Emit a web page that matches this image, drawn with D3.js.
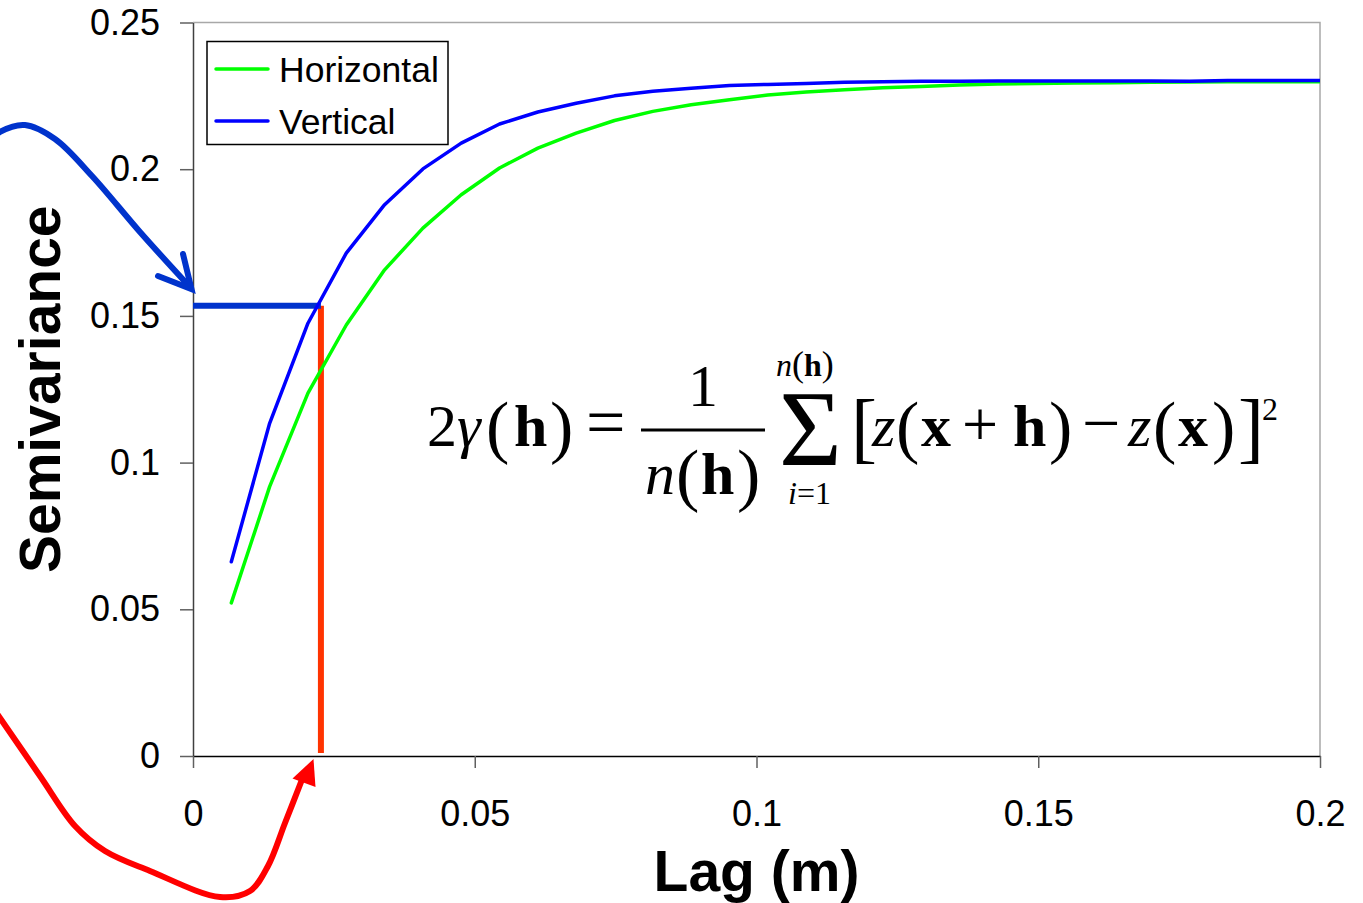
<!DOCTYPE html>
<html>
<head>
<meta charset="utf-8">
<script src="https://cdn.jsdelivr.net/npm/d3@7"></script>
<style>
  body { margin: 0; background: #fff; }
  svg { display: block; }
</style>
</head>
<body>
<svg width="1363" height="903"></svg>
<script>
// lag (m)
const lags = [0.0068, 0.0136, 0.0204, 0.0272, 0.034, 0.0408, 0.0476, 0.0544, 0.0612, 0.068,
              0.0748, 0.0816, 0.0884, 0.0952, 0.102, 0.1088, 0.1156, 0.1224, 0.1292, 0.136,
              0.1428, 0.1496, 0.1564, 0.1632, 0.17, 0.1768, 0.1836, 0.1904, 0.1972, 0.204]
const horizontal = [0.0522, 0.0918, 0.1237, 0.1469, 0.1657, 0.1799, 0.1913, 0.2004, 0.2072, 0.2123,
                    0.2166, 0.2197, 0.2220, 0.2237, 0.2253, 0.2263, 0.2271, 0.2278, 0.2282, 0.2287,
                    0.2290, 0.2292, 0.2294, 0.2295, 0.2296, 0.2297, 0.2298, 0.2298, 0.2298, 0.2298]
const vertical = [0.0662, 0.1134, 0.1475, 0.1714, 0.1879, 0.2001, 0.2089, 0.2154, 0.2195, 0.2225,
                  0.2250, 0.2266, 0.2276, 0.2285, 0.2289, 0.2292, 0.2296, 0.2298, 0.2300, 0.2300,
                  0.2301, 0.2301, 0.2301, 0.2301, 0.2301, 0.2300, 0.2302, 0.2302, 0.2302, 0.2302]
const seriesNames = ["Horizontal", "Vertical"]
const seriesColors = ["#00ff00", "#0000ff"]

const yTicks = [0, 0.05, 0.1, 0.15, 0.2, 0.25]
const yTickLabels = ["0", "0.05", "0.1", "0.15", "0.2", "0.25"]
const xTicks = [0, 0.05, 0.1, 0.15, 0.2]
const xTickLabels = ["0", "0.05", "0.1", "0.15", "0.2"]

// the picked point (lag, semivariance) marked by the blue / red lines
const pickLag = 0.0227
const pickGamma = 0.1535

const sans = "'Liberation Sans', Arial, sans-serif"
const serif = "'Liberation Serif', 'Times New Roman', serif"

const svg = d3.select("svg")
const x = d3.scaleLinear().domain([0, 0.2]).range([193, 1320])
const y = d3.scaleLinear().domain([0, 0.25]).range([756, 22.5])

// plot frame (top / right in grey)
svg.append("path")
    .attr("d", `M${x(0)},${y(0.25)}H${x(0.2)}V${y(0)}`)
    .attr("fill", "none")
    .attr("stroke", "#a8a8a8")
    .attr("stroke-width", 1.5)

// axes
const yAxis = svg.append("g")
    .attr("transform", `translate(${x(0)},0)`)
    .call(d3.axisLeft(y).tickValues(yTicks).tickFormat((d, i) => yTickLabels[i])
        .tickSize(13).tickSizeOuter(0).tickPadding(20))
const xAxis = svg.append("g")
    .attr("transform", `translate(0,${y(0)})`)
    .call(d3.axisBottom(x).tickValues(xTicks).tickFormat((d, i) => xTickLabels[i])
        .tickSize(12).tickSizeOuter(0).tickPadding(32))

yAxis.select(".domain").attr("stroke", "#404040").attr("stroke-width", 1.5)
xAxis.select(".domain").attr("stroke", "#000").attr("stroke-width", 1.5)
svg.selectAll(".tick line").attr("stroke", "#606060").attr("stroke-width", 1.5)
svg.selectAll(".tick text")
    .attr("font-family", sans)
    .attr("font-size", 36)
    .attr("fill", "#000")

// axis titles
svg.append("text")
    .attr("x", (x(0) + x(0.2)) / 2)
    .attr("y", 891)
    .attr("text-anchor", "middle")
    .attr("font-family", sans)
    .attr("font-size", 57)
    .attr("font-weight", "bold")
    .text("Lag (m)")
svg.append("text")
    .attr("transform", `translate(60,${(y(0) + y(0.25)) / 2}) rotate(-90)`)
    .attr("text-anchor", "middle")
    .attr("font-family", sans)
    .attr("font-size", 57)
    .attr("font-weight", "bold")
    .text("Semivariance")

// marker lines
svg.append("line")
    .attr("x1", x(pickLag)).attr("x2", x(pickLag))
    .attr("y1", y(pickGamma)).attr("y2", y(0) - 3)
    .attr("stroke", "#ff3300")
    .attr("stroke-width", 6)
svg.append("line")
    .attr("x1", x(0)).attr("x2", x(pickLag))
    .attr("y1", y(pickGamma)).attr("y2", y(pickGamma))
    .attr("stroke", "#0033cc")
    .attr("stroke-width", 6)

// data
svg.append("clipPath").attr("id", "plot")
    .append("rect")
    .attr("x", x(0)).attr("y", y(0.25))
    .attr("width", x(0.2) - x(0)).attr("height", y(0) - y(0.25))

const line = d3.line()
    .x(d => x(d[0]))
    .y(d => y(d[1]))
const series = [horizontal, vertical]
series.forEach((vals, k) => {
    svg.append("path")
        .datum(lags.map((l, i) => [l, vals[i]]))
        .attr("clip-path", "url(#plot)")
        .attr("d", line)
        .attr("fill", "none")
        .attr("stroke", seriesColors[k])
        .attr("stroke-width", 3.5)
        .attr("stroke-linecap", "round")
        .attr("stroke-linejoin", "round")
})

// legend
const legend = svg.append("g")
legend.append("rect")
    .attr("x", 207).attr("y", 41.5)
    .attr("width", 241).attr("height", 103)
    .attr("fill", "#fff")
    .attr("stroke", "#000")
    .attr("stroke-width", 1.5)
seriesNames.forEach((name, k) => {
    const ly = 69 + k * 52
    legend.append("line")
        .attr("x1", 216).attr("x2", 268)
        .attr("y1", ly).attr("y2", ly)
        .attr("stroke", seriesColors[k])
        .attr("stroke-width", 3.5)
        .attr("stroke-linecap", "round")
    legend.append("text")
        .attr("x", 279).attr("y", ly + 13)
        .attr("font-family", sans)
        .attr("font-size", 35.5)
        .text(name)
})

// curved arrows
const curve = d3.line().curve(d3.curveCatmullRom.alpha(0.5))
svg.append("path")
    .attr("d", curve([[-30, 160], [0, 132], [25, 125], [55, 139], [92, 176], [140, 232], [189, 286]]))
    .attr("fill", "none")
    .attr("stroke", "#0033cc")
    .attr("stroke-width", 6)
svg.append("path")
    .attr("d", "M183,254L191.5,289L158,276")
    .attr("fill", "none")
    .attr("stroke", "#0033cc")
    .attr("stroke-width", 6)
    .attr("stroke-linecap", "round")
    .attr("stroke-linejoin", "miter")

svg.append("path")
    .attr("d", curve([[-20, 690], [0, 718], [40, 776], [75, 826], [105, 851], [150, 871],
        [220, 897], [250, 891], [268, 866], [285, 823], [303, 777]]))
    .attr("fill", "none")
    .attr("stroke", "#ff0000")
    .attr("stroke-width", 6)
svg.append("path")
    .attr("d", "M313.5,759L292.5,778.5L315.5,787Z")
    .attr("fill", "#ff0000")

// semivariogram formula: each text is a run of styled pieces
const eq = [
    { x: 427, y: 446, parts: [["2", 60], ["γ", 60, "i"]] },
    { x: 486, y: 450, parts: [["(", 70]] },
    { x: 514, y: 446, parts: [["h", 60, "b"]] },
    { x: 550, y: 450, parts: [[")", 70]] },
    { x: 586, y: 446, parts: [["=", 70]] },
    { x: 703, y: 406, mid: true, parts: [["1", 60]] },
    { x: 645, y: 494, parts: [["n", 60, "i"]] },
    { x: 676, y: 498, parts: [["(", 70]] },
    { x: 701, y: 494, parts: [["h", 60, "b"]] },
    { x: 737, y: 498, parts: [[")", 70]] },
    { x: 776, y: 376, parts: [["n", 32, "i"], ["(", 36], ["h", 32, "b"], [")", 36]] },
    { x: 779, y: 465, parts: [["Σ", 108]] },
    { x: 788, y: 504, parts: [["i", 32, "i"], ["=1", 32]] },
    { x: 851, y: 454, parts: [["[", 78]] },
    { x: 872, y: 446, parts: [["z", 60, "i"]] },
    { x: 896, y: 450, parts: [["(", 70]] },
    { x: 921, y: 446, parts: [["x", 60, "b"]] },
    { x: 962, y: 446, parts: [["+", 64]] },
    { x: 1013, y: 446, parts: [["h", 60, "b"]] },
    { x: 1049, y: 450, parts: [[")", 70]] },
    { x: 1082, y: 446, parts: [["−", 68]] },
    { x: 1128, y: 446, parts: [["z", 60, "i"]] },
    { x: 1153, y: 450, parts: [["(", 70]] },
    { x: 1178, y: 446, parts: [["x", 60, "b"]] },
    { x: 1212, y: 450, parts: [[")", 70]] },
    { x: 1238, y: 454, parts: [["]", 78]] },
    { x: 1262, y: 420, parts: [["2", 32]] }
]
svg.append("g").selectAll("text")
    .data(eq)
    .join("text")
    .attr("x", d => d.x)
    .attr("y", d => d.y)
    .attr("text-anchor", d => d.mid ? "middle" : "start")
    .attr("font-family", serif)
    .selectAll("tspan")
    .data(d => d.parts)
    .join("tspan")
    .attr("font-size", p => p[1])
    .attr("font-style", p => p[2] === "i" ? "italic" : "normal")
    .attr("font-weight", p => p[2] === "b" ? "bold" : "normal")
    .text(p => p[0])
svg.append("line")
    .attr("x1", 641).attr("x2", 765)
    .attr("y1", 430).attr("y2", 430)
    .attr("stroke", "#000")
    .attr("stroke-width", 3)
</script>
</body>
</html>
